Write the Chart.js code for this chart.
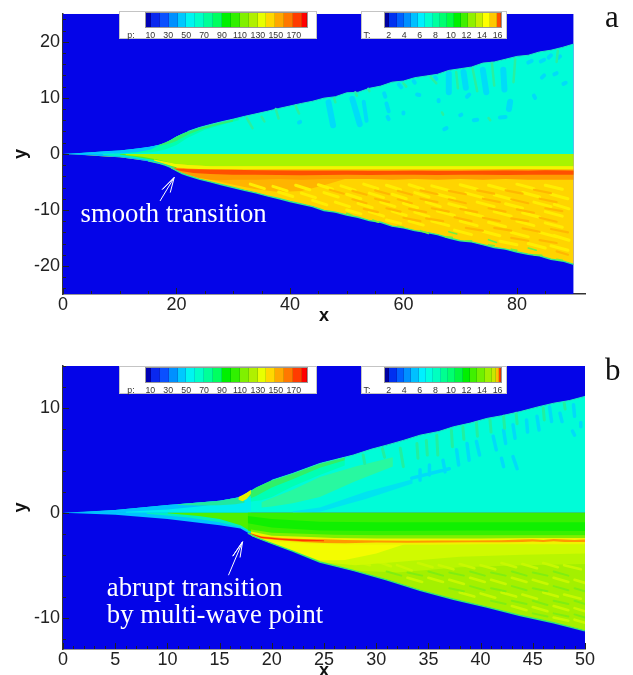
<!DOCTYPE html>
<html>
<head>
<meta charset="utf-8">
<script src="https://cdn.jsdelivr.net/npm/chart.js@4"></script>
<style>
html, body { margin: 0; padding: 0; background: #fff; overflow: hidden; width: 633px; height: 675px; }
#page { position: relative; width: 633px; height: 675px; overflow: hidden; filter: blur(0.6px); }
canvas { position: absolute; left: 0; display: block; }
.letter { position: absolute; font: 31px "Liberation Serif", serif; color: #111; }
.box { position: absolute; background: #fff; border: 1px solid #c4c4c4; box-sizing: border-box; height: 28px; }
.bar { position: absolute; top: 1px; height: 14px; display: flex; outline: 1px solid #999; }
.bar div { border-right: 1px solid rgba(0, 0, 0, .12); box-sizing: border-box; }
.lab { position: absolute; top: 17.5px; font: 8.8px "Liberation Sans", sans-serif; color: #333; transform: translateX(-50%); white-space: nowrap; }
</style>
</head>
<body>
<div id="page">
    <canvas id="grafico_a" width="633" height="330" style="top:0"></canvas>
    <canvas id="grafico_b" width="633" height="345" style="top:340px"></canvas>
    <div class="letter" style="left:605px;top:-1px">a</div>
    <div class="letter" style="left:605px;top:352px">b</div>
</div>
<script>
// colour bars
const pLabels = [10, 30, 50, 70, 90, 110, 130, 150, 170];
const tLabels = [2, 4, 6, 8, 10, 12, 14, 16];
const pColors = ['#0000b4', '#0a28ee', '#0a50ff', '#0090ff', '#00c8ff', '#00f5f0', '#00ffc8', '#00ff98', '#00ff60', '#00f000', '#30f000', '#80f000', '#b0f000', '#e8ff00', '#ffd800', '#ffa800', '#ff7800', '#ff3c00', '#ff0000'];
const pWeights = [.55, 1, 1, 1, 1, 1, 1, 1, 1, 1, 1, 1, 1, 1, 1, 1, 1, 1, .5];
const tColorsA = ['#0000a0', '#0030f0', '#0060ff', '#0090ff', '#00c0ff', '#00f0ff', '#00ffd0', '#00ffa0', '#00ff70', '#00ff40', '#00f000', '#40f000', '#90f000', '#c8f000', '#ffff00', '#ffc800', '#ff5000'];
const tWeightsA = [.55, 1, 1, 1, 1, 1, 1, 1, 1, 1, 1, 1, 1, 1, 1, 1, .45];
const tColorsB = ['#0000a0', '#0030f0', '#0060ff', '#0090ff', '#00c0ff', '#00f0ff', '#00ffe0', '#00ffc0', '#00ff90', '#00ff70', '#00f840', '#00f000', '#40f000', '#70f000', '#a0f000', '#c8e800', '#ffc000', '#ff4000'];
const tWeightsB = [.55, 1, 1, 1, 1, 1, 1, 1, 1, 1, 1, 1, 1, 1, 1, .55, .22, .22];

// axis ticks
const aTicksY = [-24, -22, -20, -18, -16, -14, -12, -10, -8, -6, -4, -2, 0, 2, 4, 6, 8, 10, 12, 14, 16, 18, 20, 22, 24];
const bTicksY = [-12, -10, -8, -6, -4, -2, 0, 2, 4, 6, 8, 10, 12, 14];

// panel a: shock fronts
const aShockX = [0, 2, 5, 8, 10, 12, 15, 17, 18, 19, 20, 21, 22, 24, 26, 28, 30, 32, 34, 36, 38, 40, 42, 44, 46, 48, 50, 52, 54, 56, 58, 60, 62, 64, 66, 68, 70, 72, 74, 76, 78, 80, 82, 84, 86, 88, 90];
const aShockTop = [0, .08, .3, .5, .62, .85, 1.2, 1.65, 1.95, 2.5, 3.1, 3.6, 4, 4.7, 5.25, 5.75, 6.2, 6.7, 7.15, 7.6, 8.1, 8.55, 9, 9.4, 9.95, 10.2, 10.9, 11, 11.7, 12.1, 12.8, 13, 13.6, 13.9, 14.2, 14.9, 15.2, 15.5, 16.2, 16.4, 16.9, 17.4, 17.6, 18.2, 18.5, 19, 19.6];
const aShockBot = [0, -.08, -.3, -.5, -.62, -.85, -1.25, -1.7, -2, -2.4, -3, -3.5, -3.85, -4.5, -5, -5.5, -6, -6.5, -6.95, -7.5, -7.95, -8.5, -8.95, -9.4, -10.1, -10.4, -10.9, -11.3, -11.9, -12.2, -12.9, -13.2, -13.7, -14, -14.4, -15, -15.5, -15.7, -16.2, -16.7, -17, -17.5, -17.9, -18.2, -18.8, -19.1, -19.7];

// panel a, upper half bands
const aTipX = [0, 5, 10, 13, 15.5, 17];
const aTipTop = [0, .3, .62, .95, 1.3, 1.65];
const aTipBot = [0, 0, .05, .3, .8, 1.65];
const aGlowX = [9, 13, 16, 18, 20, 22, 25, 28, 31];
const aGlowTop = [.4, .85, 1.35, 1.95, 3.1, 4, 5, 5.75, 6.4];
const aGlowBot = [0, .1, .35, .8, 1.6, 2.9, 4.3, 5.2, 6];
const aRimX = [17, 19, 20, 22, 24, 27, 30];
const aRimTop = [1.65, 2.5, 3.1, 4, 4.7, 5.5, 6.2];
const aRimBot = [1.4, 1.9, 2.3, 3.4, 4.2, 5.1, 5.8];

// panel a, lower half bands
const aLowTipX = [0, 5, 10, 13, 16, 18, 20];
const aLowTipTop = [0, 0, 0, 0, 0, 0, 0];
const aLowTipBot = [0, -.3, -.62, -1, -1.5, -2, -3];
const aMintX = [7, 11, 14, 17, 20];
const aMintTop = [0, 0, 0, 0, 0];
const aMintBot = [-.2, -.55, -.95, -1.55, -2.8];
const aGreenX = [10, 13, 16, 18, 20];
const aGreenTop = [0, 0, 0, 0, 0];
const aGreenBot = [-.1, -.55, -1.1, -1.8, -2.6];
const aWarmX = [20, 22, 26, 30, 34, 38, 42, 46, 50];
const aWarmTop = [-3, -3, -3, -3, -3, -3, -3, -3, -3];
const aWarmBot = [-2.9, -3.5, -4.6, -5.5, -6.3, -6.8, -6.6, -5.6, -4.4];
const aOrangeX = [19, 20, 22, 24, 26, 28, 30, 34, 38, 42, 46, 50, 54, 58, 62, 66, 70, 74, 78, 82, 86, 90];
const aOrangeTop = [-2.4, -2.5, -2.5, -2.5, -2.5, -2.55, -2.6, -2.6, -2.6, -2.6, -2.6, -2.6, -2.6, -2.6, -2.6, -2.6, -2.6, -2.6, -2.6, -2.6, -2.55, -2.6];
const aOrangeBot = [-2.6, -3, -3.7, -4.3, -4.6, -4.7, -4.6, -4.6, -4.5, -4.6, -4.5, -4.5, -4.5, -4.6, -4.5, -4.6, -4.5, -4.6, -4.5, -4.6, -4.6, -4.6];
const aLimeX = [11, 14, 17, 19, 20, 22, 26, 30, 40, 50, 60, 70, 80, 90];
const aLimeTop = [0, 0, 0, 0, 0, 0, 0, 0, 0, 0, 0, 0, 0, 0];
const aLimeBot = [-.2, -.5, -1.1, -1.6, -1.8, -2, -2.2, -2.2, -2.2, -2.2, -2.2, -2.2, -2.2, -2.2];
const aYellowX = [16, 19, 20, 22, 26, 30, 40, 50, 60, 70, 80, 90];
const aYellowTop = [-1, -1.6, -1.8, -2, -2.2, -2.2, -2.2, -2.2, -2.2, -2.2, -2.2, -2.2];
const aYellowBot = [-1.2, -2.1, -2.4, -2.6, -2.8, -2.8, -2.8, -2.8, -2.8, -2.8, -2.75, -2.8];
const aRedX = [19.5, 21, 23, 26, 30, 34, 38, 42, 46, 50, 54, 58, 62, 66, 70, 74, 78, 82, 85, 88, 90];
const aRedTop = [-2.6, -2.7, -2.75, -2.8, -2.85, -2.9, -2.95, -3, -3, -3, -3.05, -3.05, -3, -3.05, -3.05, -3, -2.95, -3, -2.9, -2.95, -3];
const aRedBot = [-2.75, -3.1, -3.4, -3.6, -3.7, -3.7, -3.75, -3.8, -3.75, -3.7, -3.75, -3.7, -3.7, -3.75, -3.7, -3.7, -3.75, -3.7, -3.7, -3.7, -3.7];
// streaks: x0, y0, x1, y1
const aBlueWide = [[46.8, 9.2, 47.6, 5.1], [51, 9.8, 52.3, 5.3], [68, 14.3, 68, 11], [70.6, 14.6, 71, 11.8], [74, 15, 74.6, 11], [77.6, 15, 77.8, 11.5], [78.8, 9.3, 78.6, 8]];
const aBlueBlobs = [[53, 9.3, 53.5, 5.9], [56.6, 10.8, 56.8, 10.2], [59.2, 12.4, 59.6, 11.9], [57, 9, 57.4, 7.6], [57.2, 6.6, 57.4, 6.2], [61.8, 13, 62, 12.7], [62.4, 10.6, 62.8, 10.5], [60, 7.4, 60, 7.2], [65.6, 13.7, 65.8, 13.4], [66.2, 9.6, 66.2, 9.4], [67.2, 4.4, 67.6, 4.6], [72.4, 6, 73, 6.1], [70, 6.9, 70.2, 7], [71.2, 10.2, 71.6, 10.6], [77, 6.5, 78, 6.6], [84.2, 16.5, 84.8, 16.8], [85.6, 17.2, 86, 17.6], [82, 16.3, 82.6, 16.6], [86.6, 14.2, 87, 14.4], [84.4, 13.6, 84.8, 14], [88.2, 12.5, 88.6, 12.7], [83, 10.4, 83.2, 10], [87.2, 17.1, 87.6, 17.4], [41.6, 5.6, 41.8, 5.7]];
const aGreenStreaks = [[47.8, 9.9, 48, 9.2], [51.5, 11, 51.8, 10.4], [53.8, 11.6, 54, 11.2], [60, 12.6, 60.5, 12], [64.8, 13.7, 65.8, 12.6], [69.3, 14.6, 69.6, 11.7], [72.2, 15.2, 73, 11.2], [75.6, 16.2, 76, 12.2], [79.7, 16.9, 79.4, 12.8], [87.2, 18.4, 87, 16.4], [37.5, 8, 38, 6.3], [32.4, 6.4, 33.4, 4.6], [35, 6.6, 35.5, 5.8], [41, 8.6, 41.6, 7.2], [66.8, 7.4, 67, 7], [75, 6.4, 75.3, 6]];
const aYellowStreaks = [
    [33, -5.4, 35.5, -6.2], [37, -5.8, 39.5, -6.6], [41, -5.6, 43.5, -6.4], [45, -5.5, 47.5, -6.3], [49, -5.7, 51.5, -6.5], [53, -5.4, 55.5, -6.2], [57, -5.6, 59.5, -6.4], [61, -5.5, 63.5, -6.3], [65, -5.7, 68, -6.5], [70, -5.5, 73, -6.3], [75, -5.6, 78, -6.4], [80, -5.4, 83, -6.2], [85, -5.6, 88, -6.3],
    [38, -6.8, 40.5, -7.6], [42, -7, 44.5, -7.8], [46, -6.9, 48.5, -7.7], [50, -7.2, 52.5, -8], [54, -7, 56.5, -7.8], [58, -7.2, 60.5, -8], [62, -6.9, 64.5, -7.7], [66, -7.2, 69, -8], [71, -7, 74, -7.8], [76, -7.3, 79, -8.1], [81, -6.9, 84, -7.7], [86, -7.2, 89, -8],
    [44, -8.3, 46.5, -9.1], [48, -8.6, 50.5, -9.4], [52, -8.8, 54.5, -9.6], [56, -8.6, 58.5, -9.4], [60, -8.8, 62.5, -9.6], [64, -8.6, 66.5, -9.4], [68, -8.9, 71, -9.7], [73, -8.6, 76, -9.4], [78, -8.9, 81, -9.7], [83, -8.6, 86, -9.4], [86.6, -9, 89.2, -9.8],
    [50, -10, 52.5, -10.7], [54, -10.3, 56.5, -11.1], [58, -10.2, 60.5, -11], [62, -10.4, 64.5, -11.2], [66, -10.2, 69, -11], [71, -10.4, 74, -11.2], [76, -10.3, 79, -11.1], [81, -10.5, 84, -11.3], [85, -10.3, 88, -11.1],
    [57, -11.8, 59.5, -12.4], [61, -12, 63.5, -12.7], [65, -12, 68, -12.8], [70, -12, 73, -12.8], [75, -12.2, 78, -13], [80, -12, 83, -12.8], [85, -12.3, 88, -13.1],
    [69, -13.6, 72, -14.4], [74, -13.8, 77, -14.6], [79, -14, 82, -14.8], [84, -14, 87, -14.8], [86.6, -14.6, 89.2, -15.4],
    [77, -15.6, 80, -16.2], [82, -16, 85, -16.8], [86, -16.4, 89, -17.2]
];
const aOrangeStreaks = [
    [47, -6.4, 49.5, -7.1], [51, -6.6, 53.5, -7.3], [55, -6.5, 57.5, -7.2], [59, -6.6, 61.5, -7.3], [63, -6.5, 66, -7.2], [68, -6.6, 71, -7.2], [73, -6.5, 76, -7.1], [78, -6.5, 81, -7.1], [83, -6.4, 86, -7],
    [51, -8.1, 53.5, -8.8], [55, -8, 57.5, -8.6], [59, -8.1, 61.5, -8.8], [63, -8, 66, -8.6], [68, -8.1, 71, -8.8], [74, -8, 77, -8.6], [79, -8.1, 82, -8.8], [84, -8, 87, -8.6],
    [53, -9.8, 55.5, -10.4], [57, -9.7, 59.5, -10.3], [61, -9.8, 64, -10.4], [65, -9.7, 68, -10.3], [70, -9.8, 73, -10.4], [75, -9.7, 78, -10.3], [80, -9.9, 83, -10.5], [85, -9.7, 88, -10.2],
    [60, -11.4, 63, -12], [64, -11.5, 67, -12], [69, -11.3, 72, -12], [74, -11.4, 77, -12], [79, -11.5, 82, -12], [84, -11.4, 87, -12.1],
    [71, -13.2, 74, -13.7], [76, -13.2, 79, -13.7], [81, -13.3, 84, -13.9], [86, -13.4, 89, -14],
    [79, -15, 82, -15.5], [84, -15.4, 87, -15.9], [87, -17.4, 89, -18]
];
const aEdgeStreaks = [[50, -10.6, 51, -11], [54.6, -11.8, 55.6, -12.2], [59, -12.9, 60, -13.1], [63, -13.7, 64.4, -14.2], [67.4, -14.8, 68.6, -14.9], [71, -15.5, 72, -15.5], [75, -16.2, 76, -16.4], [79, -17, 80, -17.2], [83, -18, 84.4, -18.1], [87, -18.8, 88, -19], [68, -13.9, 69.4, -14.3], [75, -15.3, 76.4, -15.8], [82, -16.8, 83.4, -17.2]];

// panel b: shock fronts
const bShockX = [0, 2, 5, 8, 10, 13, 15, 17, 17.7, 18.5, 20, 22, 24.6, 26, 27.8, 29.5, 31, 32.6, 34.2, 36, 37.4, 39, 40.6, 42, 43.8, 45.5, 47, 48.5, 50];
const bShockTop = [0, .08, .27, .55, .73, .98, 1.15, 1.5, 1.95, 2.4, 3.1, 3.75, 4.7, 5.05, 5.5, 6.05, 6.45, 6.9, 7.4, 7.75, 8.2, 8.55, 9, 9.25, 9.65, 10.1, 10.45, 10.7, 11.1];
const bShockBot = [0, -.08, -.2, -.43, -.6, -.95, -1.2, -1.5, -1.95, -2.35, -2.93, -3.66, -4.7, -5.05, -5.5, -6, -6.4, -6.95, -7.4, -7.9, -8.25, -8.6, -9, -9.4, -9.8, -10.15, -10.5, -10.9, -11.27];

// panel b, upper half bands
const bTipX = [0, 5, 10, 13, 15, 17, 17.7];
const bTipTop = [0, .27, .73, .98, 1.15, 1.5, 1.95];
const bTipBot = [0, 0, 0, 0, 0, 0, 0];
const bPaleX = [6, 10, 13, 15, 17, 18];
const bPaleTop = [.1, .3, .6, .85, 1.2, 1.6];
const bPaleBot = [0, 0, 0, 0, 0, 0];
const bWedgeX = [11, 13, 15, 16.5, 17.4];
const bWedgeTop = [.82, .98, 1.15, 1.4, 1.6];
const bWedgeBot = [.75, .7, .72, .8, .95];
const bRimX = [17.5, 18.5, 20, 22, 24.6, 27];
const bRimTop = [1.7, 2.4, 3.1, 3.75, 4.7, 5.3];
const bRimBot = [1.2, 1.6, 2.4, 3.2, 4.3, 5];
const bSoftX = [17.5, 19, 20, 22, 24.6, 27];
const bSoftTop = [1.5, 2.4, 3.1, 3.75, 4.7, 5.3];
const bSoftBot = [1, 1.2, 1.5, 2.5, 3.6, 4.5];
const bDiagX = [19, 20, 22, 24.6, 28, 31.6];
const bDiagTop = [1, 1.4, 2.2, 3.4, 4.4, 5.3];
const bDiagBot = [.5, .6, .9, 1.5, 3, 4.4];
const bPaleBandX = [22, 24.6, 29, 33.5];
const bPaleBandTop = [.15, .5, 2, 3.2];
const bPaleBandBot = [0, .1, 1.3, 2.8];
const bHotX = [16.8, 17.2, 17.6, 18];
const bHotTop = [1.5, 1.7, 1.9, 2.2];
const bHotBot = [1.25, 1.1, 1.3, 1.8];

// panel b, lower half bands
const bLowTipX = [0, 5, 10, 15, 17, 18];
const bLowTipTop = [0, 0, 0, 0, 0, 0];
const bLowTipBot = [0, -.2, -.6, -1.2, -1.5, -2.07];
const bTealX = [8, 12, 15, 17, 18];
const bTealTop = [0, 0, 0, 0, 0];
const bTealBot = [-.1, -.45, -.9, -1.4, -1.9];
const bGrassX = [10, 13, 15, 17, 18];
const bGrassTop = [0, 0, 0, 0, 0];
const bGrassBot = [-.05, -.3, -.6, -1.2, -1.8];
const bBodyX = [17.7, 18.5, 20, 22, 24.6, 27.8, 31, 34.2, 37.4, 40.6, 43.8, 47, 50];
const bBodyTop = [0, 0, 0, 0, 0, 0, 0, 0, 0, 0, 0, 0, 0];
const bBodyBot = [-1.95, -2.35, -2.93, -3.66, -4.7, -5.5, -6.4, -7.4, -8.25, -9, -9.8, -10.5, -11.27];
const bGreenX = [17.7, 18.5, 20, 22, 24.6, 30, 40, 50];
const bGreenTop = [0, 0, 0, 0, 0, 0, 0, 0];
const bGreenBot = [-1.7, -1.85, -2, -2.1, -2.15, -2.2, -2.2, -2.2];
const bCoreX = [17.7, 20, 24.6, 30, 40, 50];
const bCoreTop = [-.3, -.6, -.85, -.9, -.9, -.9];
const bCoreBot = [-1, -1.4, -1.7, -1.75, -1.7, -1.75];
const bSunX = [18, 20, 22, 24.6, 27, 30, 33];
const bSunTop = [-2, -2.5, -2.6, -2.8, -2.8, -2.9, -2.9];
const bSunBot = [-2.2, -2.93, -3.66, -4.55, -4.5, -3.9, -2.9];
const bPaleSunX = [22, 24.6, 28, 32, 38, 44, 50];
const bPaleSunTop = [-2.8, -2.8, -2.8, -2.8, -2.8, -2.8, -2.8];
const bPaleSunBot = [-3.66, -4.7, -5, -4.7, -4.2, -4, -3.9];
const bMidSunX = [24.6, 27.8, 32, 38, 44, 50];
const bMidSunTop = [-3, -3, -3, -3, -3, -3];
const bMidSunBot = [-4.7, -5.5, -5.7, -5.2, -5, -4.9];
const bLimeX = [18, 20, 23, 26, 30, 35, 40, 45, 50];
const bLimeTop = [-1.6, -1.9, -2, -2.1, -2.15, -2.15, -2.15, -2.15, -2.15];
const bLimeBot = [-2, -2.4, -2.5, -2.55, -2.6, -2.6, -2.55, -2.55, -2.55];
const bLineYellowX = [18, 20, 23, 26, 30, 35, 40, 45, 50];
const bLineYellowTop = [-1.8, -2.2, -2.3, -2.4, -2.45, -2.45, -2.45, -2.4, -2.4];
const bLineYellowBot = [-2.2, -2.75, -2.9, -3, -3.05, -3.05, -3, -3, -3];
const bLineX = [17.8, 19, 21, 23, 25, 27, 30, 33, 36, 39, 42, 44, 45, 46, 47, 48, 49, 50];
const bLineTop = [-1.9, -2.25, -2.42, -2.5, -2.52, -2.6, -2.65, -2.68, -2.66, -2.64, -2.62, -2.56, -2.52, -2.6, -2.5, -2.56, -2.6, -2.55];
const bLineBot = [-2, -2.45, -2.65, -2.8, -2.88, -2.9, -2.85, -2.86, -2.84, -2.82, -2.82, -2.8, -2.74, -2.78, -2.72, -2.78, -2.8, -2.8];
const bRedX = [17.8, 19, 21, 23, 25];
const bRedTop = [-1.93, -2.3, -2.48, -2.56, -2.62];
const bRedBot = [-1.98, -2.42, -2.6, -2.72, -2.72];
const bBlueWide = [[34.2, 4.1, 34.2, 3.1], [35.1, 4.55, 35.1, 3.6], [36.4, 5, 36.6, 3.9], [37.7, 6, 37.9, 4.55], [38.7, 6.6, 38.9, 5], [39.6, 6.8, 39.9, 5.5], [41.2, 7.3, 41.5, 6], [42.2, 7.9, 42.4, 6.6], [43.1, 8.4, 43.3, 7.1], [44.4, 8.85, 44.5, 7.7], [45.4, 9.2, 45.6, 7.9], [46.6, 10.1, 46.8, 8.7], [47.6, 9.5, 47.8, 8.7], [48.9, 10.3, 49, 9.2], [42, 5.2, 42.2, 4.4], [43.1, 5.35, 43.5, 4.2], [33.4, 3.3, 37, 4.2], [49.6, 8.6, 49.6, 8.2], [48.8, 7.8, 49, 7.4]];
const bGreenStreaks = [[28.75, 5.5, 28.9, 4.7], [30.6, 6.1, 30.8, 5.3], [32.3, 6.15, 32.6, 4.4], [33.9, 6.6, 34, 5.2], [34.8, 6.9, 34.9, 5.5], [35.8, 7.4, 35.9, 5.5], [37.2, 7.9, 37.3, 6.3], [38.3, 8.2, 38.4, 7], [39.6, 8.6, 39.7, 7.3], [40.9, 8.85, 41, 7.7], [42.2, 9.2, 42.3, 8.05], [43.4, 9.5, 43.5, 8.5], [46, 10, 46.1, 8.85], [48, 10.5, 48.1, 9.9]];
const bPaleStreaks = [
    [28, -4.6, 29.4, -5], [30, -4.6, 31.4, -5.1], [32, -5, 33.4, -5.5], [34, -4.8, 35.4, -5.2], [36, -5, 37.4, -5.4], [38, -4.9, 39.4, -5.3], [40, -5, 41.4, -5.4], [42, -4.8, 43.4, -5.2], [44, -4.9, 45.4, -5.3], [46, -4.8, 47.4, -5.2], [48, -5, 49.6, -5.4],
    [33, -6.2, 34.4, -6.6], [35, -6.2, 36.4, -6.6], [37, -6.4, 38.4, -6.8], [39, -6.2, 40.4, -6.6], [41, -6.4, 42.4, -6.8], [43, -6.2, 44.4, -6.6], [45, -6.4, 46.4, -6.8], [47, -6.2, 48.4, -6.6], [49, -6.4, 50, -6.7],
    [38, -7.6, 39.4, -8], [40, -7.7, 41.4, -8.1], [42, -7.6, 43.4, -8], [44, -7.8, 45.4, -8.2], [46, -7.6, 47.4, -8], [48, -7.8, 49.6, -8.2],
    [43, -8.9, 44.4, -9.3], [45, -9, 46.4, -9.4], [47, -8.9, 48.4, -9.3], [49, -9.1, 50, -9.4], [47, -10, 48.4, -10.3], [49, -10.2, 50, -10.5]
];
const bDarkStreaks = [
    [31, -5.6, 32.4, -6], [33, -5.7, 34.4, -6], [35, -5.6, 36.4, -6], [37, -5.7, 38.4, -6], [39, -5.6, 40.4, -6], [41, -5.7, 42.4, -6], [43, -5.6, 44.4, -6], [45, -5.7, 46.4, -6], [47, -5.6, 48.4, -6],
    [37, -7.2, 38.4, -7.5], [39, -7, 40.4, -7.4], [41, -7.2, 42.4, -7.5], [43, -7, 44.4, -7.4], [45, -7.2, 46.4, -7.5], [47, -7, 48.4, -7.4], [49, -7.2, 50, -7.5],
    [41, -8.4, 42.4, -8.7], [43, -8.4, 44.4, -8.7], [45, -8.4, 46.4, -8.8], [47, -8.4, 48.4, -8.7], [49, -8.4, 50, -8.7], [45, -9.6, 46.4, -9.9], [47, -9.6, 48.4, -9.9], [49, -9.7, 50, -10]
];

// annotations
const aArrowX = [17.1, 19.6, 17.5, 19.6, 18.9];
const aArrowY = [-8.4, -4.2, -6.35, -4.2, -6.9];
const bArrowX = [15.85, 17.2, 16.26, 17.2, 16.96];
const bArrowY = [-5.96, -2.77, -4.14, -2.77, -4.27];

function band(list, xs, top, bot, color) {
    list.push({ data: xs.map((x, i) => ({ x: x, y: top[i] })), fill: '+1', backgroundColor: color, borderWidth: 0, borderColor: color, pointRadius: 0 });
    list.push({ data: xs.map((x, i) => ({ x: x, y: bot[i] })), fill: false, borderWidth: 0, pointRadius: 0 });
}

function curve(list, xs, ys, color, width) {
    list.push({ data: xs.map((x, i) => ({ x: x, y: ys[i] })), fill: false, borderColor: color, borderWidth: width, pointRadius: 0 });
}

function streaks(list, segs, color, width) {
    const pts = [];
    segs.forEach(s => {
        pts.push({ x: s[0], y: s[1] }, { x: s[2], y: s[3] }, { x: s[2], y: null });
    });
    list.push({ data: pts, fill: false, borderColor: color, borderWidth: width, borderCapStyle: 'round', pointRadius: 0 });
}

const BLUE = '#0404e8';
const MINT = '#00fcd8';

// panel a layers, back to front
const setsA = [];
band(setsA, [0, 90], [25, 25], [-25, -25], BLUE);
band(setsA, aShockX, aShockTop, aShockX.map(() => 0), MINT);
band(setsA, aGlowX, aGlowTop, aGlowBot, '#00ffb0');
band(setsA, aTipX, aTipTop, aTipBot, '#00c8ff');
band(setsA, aRimX, aRimTop, aRimBot, '#30f070');
streaks(setsA, aBlueWide, '#00dcf8', 6);
streaks(setsA, aBlueBlobs, '#00dcf8', 4);
streaks(setsA, aGreenStreaks, '#28f0a0', 2.5);
band(setsA, aShockX, aShockX.map(() => 0), aShockBot, '#ffd400');
band(setsA, aLowTipX, aLowTipTop, aLowTipBot, '#00b8ff');
band(setsA, aMintX, aMintTop, aMintBot, '#00f0c8');
band(setsA, aGreenX, aGreenTop, aGreenBot, '#50f020');
band(setsA, aWarmX, aWarmTop, aWarmBot, '#ffb400');
streaks(setsA, aYellowStreaks, '#ffee00', 3);
streaks(setsA, aOrangeStreaks, '#ffb800', 2.2);
band(setsA, aOrangeX, aOrangeTop, aOrangeBot, '#ff9c00');
band(setsA, aLimeX, aLimeTop, aLimeBot, '#a8f400');
band(setsA, aYellowX, aYellowTop, aYellowBot, '#f0f800');
band(setsA, aRedX, aRedTop, aRedBot, '#ff5000');
curve(setsA, aShockX.slice(6), aShockBot.slice(6), '#30e890', 1.4);
streaks(setsA, aEdgeStreaks, '#70f040', 1.6);
curve(setsA, aShockX.slice(12), aShockTop.slice(12), '#20e8c0', 1);
curve(setsA, aArrowX, aArrowY, '#ffffff', 1);

// panel b layers, back to front
const setsB = [];
band(setsB, [0, 50], [14, 14], [-13, -13], BLUE);
band(setsB, bShockX, bShockTop, bShockX.map(() => 0), MINT);
band(setsB, bSoftX, bSoftTop, bSoftBot, '#00ffb4');
band(setsB, bRimX, bRimTop, bRimBot, '#30f068');
band(setsB, bDiagX, bDiagTop, bDiagBot, '#28f8a0');
band(setsB, bPaleBandX, bPaleBandTop, bPaleBandBot, '#00e4f0');
band(setsB, bTipX, bTipTop, bTipBot, '#00c4ff');
band(setsB, bPaleX, bPaleTop, bPaleBot, '#00eef0');
band(setsB, bWedgeX, bWedgeTop, bWedgeBot, '#20e8a0');
band(setsB, bHotX, bHotTop, bHotBot, '#e8f000');
streaks(setsB, bBlueWide, '#00dcf8', 3.5);
streaks(setsB, bGreenStreaks, '#20f0a0', 3);
band(setsB, bBodyX, bBodyTop, bBodyBot, '#a4f000');
band(setsB, bMidSunX, bMidSunTop, bMidSunBot, '#b8f600');
streaks(setsB, bPaleStreaks, '#c8f800', 2.6);
streaks(setsB, bDarkStreaks, '#80ee10', 2);
band(setsB, bLowTipX, bLowTipTop, bLowTipBot, '#00c4ff');
band(setsB, bTealX, bTealTop, bTealBot, '#00f0c0');
band(setsB, bGrassX, bGrassTop, bGrassBot, '#50f000');
band(setsB, bPaleSunX, bPaleSunTop, bPaleSunBot, '#d0fa00');
band(setsB, bSunX, bSunTop, bSunBot, '#f4fc00');
band(setsB, bGreenX, bGreenTop, bGreenBot, '#38f000');
band(setsB, bCoreX, bCoreTop, bCoreBot, '#10f000');
band(setsB, bLimeX, bLimeTop, bLimeBot, '#80f000');
band(setsB, bLineYellowX, bLineYellowTop, bLineYellowBot, '#f0f400');
band(setsB, bLineX, bLineTop, bLineBot, '#ff9800');
band(setsB, bRedX, bRedTop, bRedBot, '#ff3800');
curve(setsB, bBodyX, bBodyBot, '#30e878', 1.4);
curve(setsB, bShockX.slice(10), bShockTop.slice(10), '#20e8c0', 1);
curve(setsB, bArrowX, bArrowY, '#ffffff', 1);

// ticks point inward, long on major values, short on the others
const inwardTicks = {
    id: 'inTicks',
    afterDraw(chart, args, opts) {
        const c = chart.ctx;
        const xs = chart.scales.x, ys = chart.scales.y;
        c.save();
        c.strokeStyle = '#222';
        c.lineWidth = 1;
        xs.ticks.forEach(t => {
            if (t.value >= opts.xEnd) return;
            const p = Math.round(xs.getPixelForValue(t.value)) + .5;
            const len = t.value % opts.xMajor === 0 ? 6 : 3;
            c.beginPath(); c.moveTo(p, ys.bottom); c.lineTo(p, ys.bottom - len); c.stroke();
        });
        ys.ticks.forEach(t => {
            const p = Math.round(ys.getPixelForValue(t.value)) + .5;
            const len = t.value % opts.yMajor === 0 ? 6 : 3;
            c.beginPath(); c.moveTo(xs.left, p); c.lineTo(xs.left + len, p); c.stroke();
        });
        // white notes on the plot
        c.fillStyle = '#fff';
        c.font = '26.7px "Liberation Serif", serif';
        c.textBaseline = 'alphabetic';
        opts.notes.forEach(n => {
            c.fillText(n.text, xs.getPixelForValue(n.x), ys.getPixelForValue(n.y));
        });
        c.restore();
    }
};

function makeChart(id, sets, xMax, xEnd, yMin, yMax, yTicks, xStep, xMajor, top, notes) {
    sets.forEach((d, i) => { d.order = -i; });
    return new Chart(document.getElementById(id), {
        type: 'line',
        data: { datasets: sets },
        plugins: [inwardTicks],
        options: {
            responsive: false,
            animation: false,
            events: [],
            layout: { padding: { top: top, right: 48, left: 0, bottom: 0 } },
            plugins: {
                legend: { display: false },
                tooltip: { enabled: false },
                inTicks: { xMajor: xMajor, xEnd: xEnd, yMajor: 10, notes: notes }
            },
            scales: {
                x: {
                    type: 'linear', min: 0, max: xMax,
                    afterFit: s => { s.height = 36; },
                    grid: { drawOnChartArea: false, drawTicks: false },
                    border: { color: '#333', width: 1.5 },
                    title: { display: true, text: 'x', color: '#111', font: { family: 'Liberation Sans', size: 18, weight: 'bold' }, padding: { top: 0, bottom: 3 } },
                    ticks: {
                        stepSize: xStep, autoSkip: false, includeBounds: false, maxRotation: 0, padding: 0,
                        color: '#222', font: { family: 'Liberation Sans', size: 18 },
                        callback: v => (v % xMajor === 0 ? String(v) : '')
                    }
                },
                y: {
                    type: 'linear', min: yMin, max: yMax,
                    afterFit: s => { s.width = 63; },
                    afterBuildTicks: s => { s.ticks = yTicks.map(v => ({ value: v })); },
                    grid: { drawOnChartArea: false, drawTicks: false },
                    border: { color: '#333', width: 1.5 },
                    title: { display: true, text: 'y', color: '#111', font: { family: 'Liberation Sans', size: 18, weight: 'bold' }, padding: { top: 10, bottom: 0 } },
                    ticks: {
                        autoSkip: false, padding: 3,
                        color: '#222', font: { family: 'Liberation Sans', size: 18 },
                        callback: v => (v % 10 === 0 ? String(v) : '')
                    }
                }
            }
        }
    });
}

makeChart('grafico_a', setsA, 92, 90, -25, 25, aTicksY, 5, 20, 12, [{ text: 'smooth transition', x: 3.1, y: -12.2 }]);
makeChart('grafico_b', setsB, 50, 51, -13, 14, bTicksY, 1, 5, 26, [
    { text: 'abrupt transition', x: 4.2, y: -7.95 },
    { text: 'by multi-wave point', x: 4.2, y: -10.5 }
]);

// colour bar boxes
function colourBar(left, top, width, name, nameX, barLeft, barWidth, colors, weights, labels, firstX, stepX) {
    const page = document.getElementById('page');
    const box = document.createElement('div');
    box.className = 'box';
    box.style.cssText = 'left:' + left + 'px;top:' + top + 'px;width:' + width + 'px';
    const bar = document.createElement('div');
    bar.className = 'bar';
    bar.style.left = (barLeft - left) + 'px';
    bar.style.width = barWidth + 'px';
    colors.forEach((col, i) => {
        const cell = document.createElement('div');
        cell.style.background = col;
        cell.style.flex = weights[i] + ' 0 0';
        bar.appendChild(cell);
    });
    box.appendChild(bar);
    const addLabel = (text, x) => {
        const el = document.createElement('div');
        el.className = 'lab';
        el.textContent = text;
        el.style.left = (x - left) + 'px';
        box.appendChild(el);
    };
    addLabel(name, nameX);
    labels.forEach((v, i) => addLabel(String(v), firstX + i * stepX));
    page.appendChild(box);
}

colourBar(119, 11, 198, 'p:', 130, 144.5, 161.5, pColors, pWeights, pLabels, 149.3, 17.93);
colourBar(361, 11, 146, 'T:', 366, 384, 116, tColorsA, tWeightsA, tLabels, 387.7, 15.55);
colourBar(119, 366, 198, 'p:', 130, 144.5, 161.5, pColors, pWeights, pLabels, 149.3, 17.93);
colourBar(361, 366, 146, 'T:', 366, 384, 116, tColorsB, tWeightsB, tLabels, 387.7, 15.55);
</script>
</body>
</html>
